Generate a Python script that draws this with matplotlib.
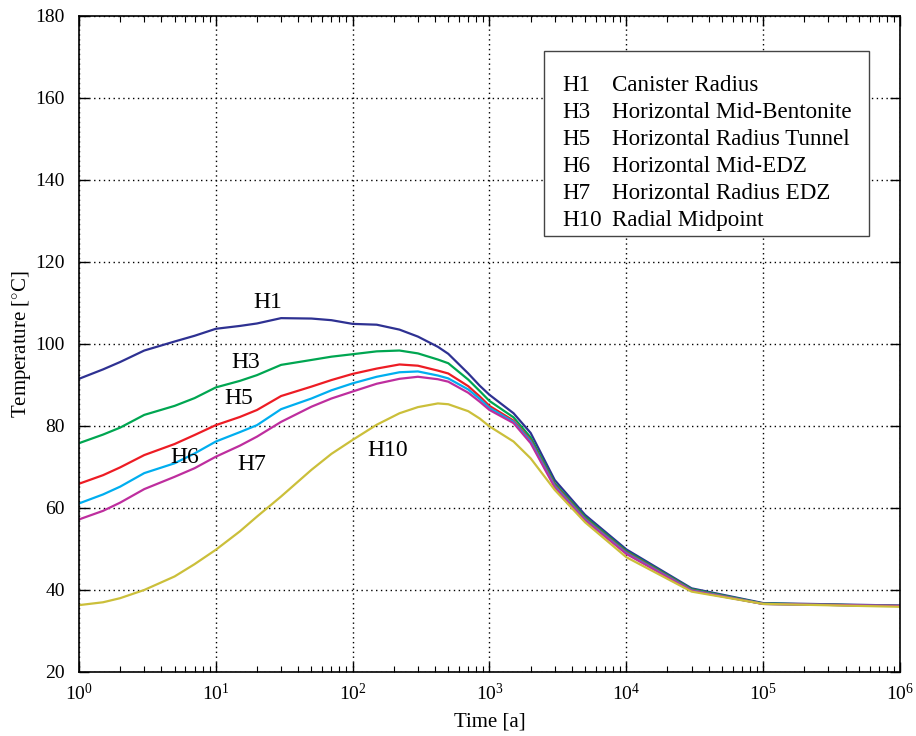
import matplotlib
matplotlib.use("Agg")
import matplotlib.pyplot as plt
from matplotlib.patches import Rectangle
import numpy as np

plt.rcParams['font.family'] = ['Liberation Serif', 'DejaVu Serif']
plt.rcParams['mathtext.fontset'] = 'custom'
plt.rcParams['mathtext.rm'] = 'Liberation Serif'
plt.rcParams['mathtext.it'] = 'Liberation Serif:italic'
plt.rcParams['mathtext.bf'] = 'Liberation Serif:bold'

# time points [a]
time = [1, 1.5, 2, 3, 5, 7, 10, 15, 20, 30, 50, 70, 100, 150, 220, 300, 420, 500, 700, 850,
        1000, 1500, 2000, 3000, 5000, 10000, 30000, 100000, 1000000]

H1 = [91.5, 93.8, 95.6, 98.4, 100.6, 102.0, 103.7, 104.4, 105.0, 106.3, 106.2, 105.8, 104.9, 104.7, 103.5, 101.8, 99.3, 97.6, 92.8, 89.8,
      87.6, 83.1, 78.3, 66.8, 58.3, 49.9, 40.4, 36.8, 36.2]
H3 = [75.8, 77.9, 79.6, 82.7, 84.9, 86.8, 89.4, 91.0, 92.4, 94.9, 96.1, 96.9, 97.5, 98.2, 98.4, 97.7, 96.2, 95.3, 91.3, 88.5,
      86.1, 82.1, 77.2, 66.0, 57.8, 49.5, 40.2, 36.7, 36.1]
H5 = [65.9, 68.0, 69.9, 72.9, 75.6, 77.8, 80.2, 82.2, 83.9, 87.3, 89.6, 91.2, 92.7, 94.0, 95.0, 94.7, 93.5, 92.8, 89.7, 87.2,
      84.9, 81.3, 76.5, 65.6, 57.4, 49.2, 40.0, 36.6, 36.1]
H6 = [61.1, 63.3, 65.2, 68.5, 70.9, 73.3, 76.2, 78.5, 80.2, 84.1, 86.7, 88.7, 90.4, 92.0, 93.1, 93.3, 92.3, 91.6, 88.9, 86.6,
      84.4, 81.0, 76.2, 65.3, 57.2, 49.0, 39.9, 36.6, 36.1]
H7 = [57.2, 59.3, 61.3, 64.6, 67.6, 69.7, 72.5, 75.2, 77.4, 81.0, 84.7, 86.7, 88.4, 90.3, 91.5, 92.0, 91.4, 90.8, 88.1, 85.9,
      83.9, 80.7, 75.8, 65.0, 57.0, 48.8, 39.8, 36.6, 36.1]
H10 = [36.3, 37.0, 38.0, 40.0, 43.3, 46.3, 49.8, 54.3, 57.9, 62.8, 69.3, 73.2, 76.6, 80.3, 83.1, 84.6, 85.5, 85.3, 83.6, 81.8,
       79.9, 76.2, 72.1, 64.4, 56.5, 48.0, 39.6, 36.6, 35.9]

series = [H1, H3, H5, H6, H7, H10]
codes = ['H1', 'H3', 'H5', 'H6', 'H7', 'H10']
descriptions = ['Canister Radius', 'Horizontal Mid-Bentonite', 'Horizontal Radius Tunnel',
                'Horizontal Mid-EDZ', 'Horizontal Radius EDZ', 'Radial Midpoint']
colors = ['#2E3192', '#00A651', '#ED1C24', '#00AEEF', '#BE2E9E', '#CBBF3A']

# in-plot curve labels (time, temperature)
label_t = [24, 16.6, 14.8, 5.9, 18.4, 181]
label_T = [110.2, 95.6, 86.8, 72.2, 70.7, 74.1]

fig = plt.figure(figsize=(9.16, 7.36), dpi=100)
ax = fig.add_axes([0.0862, 0.087, 0.8963, 0.8913])

for y, c in zip(series, colors):
    ax.plot(time, y, color=c, lw=1.6)

ax.set_xscale('log')
ax.set_xlim(1, 1e6)
ax.set_ylim(20, 180)
ax.set_yticks(np.arange(20, 181, 20))
ax.grid(True, which='major', linestyle=(0, (1, 2.5)), color='black', lw=1.0)
ax.tick_params(which='both', direction='in', top=True, right=True, labelsize=14)
ax.tick_params(axis='y', which='major', pad=10)
ax.tick_params(axis='x', which='major', pad=8)
ax.tick_params(which='major', length=7, width=1)
ax.tick_params(which='minor', length=4, width=0.8)
for s in ax.spines.values():
    s.set_linewidth(1.2)

ax.set_xlabel('Time [a]', fontsize=15, va='center')
ax.set_ylabel('Temperature [$^{\\circ}$C]', fontsize=15, va='center')
ax.yaxis.set_label_coords(-0.0705, 0.5)
ax.xaxis.set_label_coords(0.5, -0.076)

for code, t, T in zip(codes, label_t, label_T):
    ax.text(t, T, code, fontsize=17, ha='center', va='center')

# legend box (text-only)
ax.add_patch(Rectangle((0.5664, 0.6647), 0.3958, 0.2820, transform=ax.transAxes,
                       facecolor='white', edgecolor='#444444', lw=1.0, zorder=5))
row0 = 0.8944
dy = 0.0412
for i, (code, d) in enumerate(zip(codes, descriptions)):
    yy = row0 - i * dy
    ax.text(0.5883, yy, code, transform=ax.transAxes, fontsize=16.6, va='center', ha='left', zorder=6)
    ax.text(0.6492, yy, d, transform=ax.transAxes, fontsize=16.6, va='center', ha='left', zorder=6)

fig.savefig('out.png', dpi=100)
